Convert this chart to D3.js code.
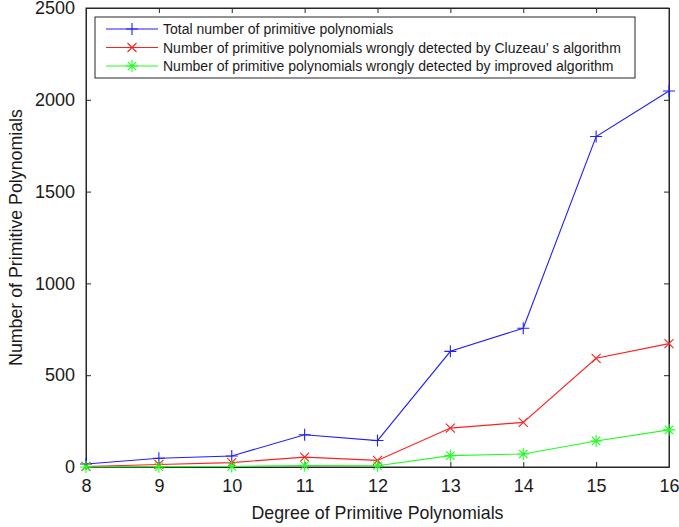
<!DOCTYPE html>
<html>
<head>
<meta charset="utf-8">
<script src="https://cdn.jsdelivr.net/npm/d3@7"></script>
<style>
  html, body { margin: 0; padding: 0; background: #fff; }
  svg { display: block; font-family: "Liberation Sans", Arial, sans-serif; }
</style>
</head>
<body>
<svg id="chart" width="679" height="527"></svg>
<script>
// Degrees of the polynomials
const degrees = [8, 9, 10, 11, 12, 13, 14, 15, 16];
// Total number of primitive polynomials per degree
const totalCount = [16, 48, 60, 176, 144, 630, 756, 1800, 2048];
// Wrongly detected by Cluzeau's algorithm
const cluzeauWrong = [3, 14, 24, 54, 36, 212, 243, 592, 672];
// Wrongly detected by the improved algorithm
const improvedWrong = [0, 1, 3, 8, 7, 62, 71, 142, 202];

const xTicks = [8, 9, 10, 11, 12, 13, 14, 15, 16];
const yTicks = [0, 500, 1000, 1500, 2000, 2500];

const series = [
  { name: "Total number of primitive polynomials", values: totalCount, color: "#1f1fff", marker: "plus" },
  { name: "Number of primitive polynomials wrongly detected by Cluzeau\u2019 s algorithm", values: cluzeauWrong, color: "#ff2020", marker: "cross" },
  { name: "Number of primitive polynomials wrongly detected by improved algorithm", values: improvedWrong, color: "#1fff1f", marker: "star" }
];

const svg = d3.select("#chart");
const plotL = 86, plotR = 669, plotT = 8, plotB = 467;
const axisColor = "#262626";
const textColor = "#1a1a1a";

const x = d3.scaleLinear().domain([8, 16]).range([plotL, plotR]);
const y = d3.scaleLinear().domain([0, 2500]).range([plotB, plotT]);

// Plot box
svg.append("rect")
  .attr("x", plotL).attr("y", plotT)
  .attr("width", plotR - plotL).attr("height", plotB - plotT)
  .attr("fill", "none").attr("stroke", axisColor).attr("stroke-width", 1);

// Bottom and left axes with inward ticks
const fmt = d3.format("d");
const xAxis = d3.axisBottom(x).tickValues(xTicks).tickFormat(fmt).tickSizeInner(-5).tickSizeOuter(0).tickPadding(12);
const yAxis = d3.axisLeft(y).tickValues(yTicks).tickFormat(fmt).tickSizeInner(-5).tickSizeOuter(0).tickPadding(11);

svg.append("g").attr("transform", `translate(0,${plotB})`).call(xAxis);
svg.append("g").attr("transform", `translate(${plotL},0)`).call(yAxis);

// Mirrored ticks on top and right edges
svg.append("g").attr("transform", `translate(0,${plotT})`)
  .call(d3.axisTop(x).tickValues(xTicks).tickSizeInner(-5).tickSizeOuter(0).tickFormat(""));
svg.append("g").attr("transform", `translate(${plotR},0)`)
  .call(d3.axisRight(y).tickValues(yTicks).tickSizeInner(-5).tickSizeOuter(0).tickFormat(""));

svg.selectAll(".domain").attr("stroke", axisColor);
svg.selectAll(".tick line").attr("stroke", axisColor);
svg.selectAll(".tick text")
  .attr("fill", textColor).style("font-size", "18px")
  .style("font-family", "'Liberation Sans', Arial, sans-serif");

// Axis titles
svg.append("text")
  .attr("x", (plotL + plotR) / 2).attr("y", 519)
  .attr("text-anchor", "middle").attr("fill", textColor)
  .style("font-size", "17.8px")
  .text("Degree of Primitive Polynomials");

svg.append("text")
  .attr("transform", `translate(22,${(plotT + plotB) / 2}) rotate(-90)`)
  .attr("text-anchor", "middle").attr("fill", textColor)
  .style("font-size", "17.8px")
  .text("Number of Primitive Polynomials");

// Marker path generators
function markerPath(type, s) {
  if (type === "plus") return `M${-s},0H${s}M0,${-s}V${s}`;
  if (type === "cross") { const d = s * 0.75; return `M${-d},${-d}L${d},${d}M${-d},${d}L${d},${-d}`; }
  const d = s * 0.7;
  return `M${-s},0H${s}M0,${-s}V${s}M${-d},${-d}L${d},${d}M${-d},${d}L${d},${-d}`;
}

const line = d3.line().x(d => x(d[0])).y(d => y(d[1]));

series.forEach(sr => {
  const pts = degrees.map((dg, i) => [dg, sr.values[i]]);
  const g = svg.append("g");
  g.append("path").datum(pts).attr("d", line)
    .attr("fill", "none").attr("stroke", sr.color).attr("stroke-width", 1.1);
  g.selectAll("path.m").data(pts).enter().append("path")
    .attr("class", "m")
    .attr("transform", d => `translate(${x(d[0])},${y(d[1])})`)
    .attr("d", markerPath(sr.marker, 6))
    .attr("fill", "none").attr("stroke", sr.color).attr("stroke-width", 1.1);
});

// Legend
const lg = svg.append("g");
lg.append("rect")
  .attr("x", 95).attr("y", 17).attr("width", 540).attr("height", 61)
  .attr("fill", "#fff").attr("stroke", axisColor).attr("stroke-width", 1);
series.forEach((sr, i) => {
  const cy = 29 + i * 18.5;
  lg.append("line").attr("x1", 106).attr("x2", 158).attr("y1", cy).attr("y2", cy)
    .attr("stroke", sr.color).attr("stroke-width", 1.1);
  lg.append("path").attr("transform", `translate(132,${cy})`)
    .attr("d", markerPath(sr.marker, 6))
    .attr("fill", "none").attr("stroke", sr.color).attr("stroke-width", 1.1);
  lg.append("text").attr("x", 163).attr("y", cy + 5)
    .attr("fill", textColor).style("font-size", "14px")
    .text(sr.name);
});
</script>
</body>
</html>
